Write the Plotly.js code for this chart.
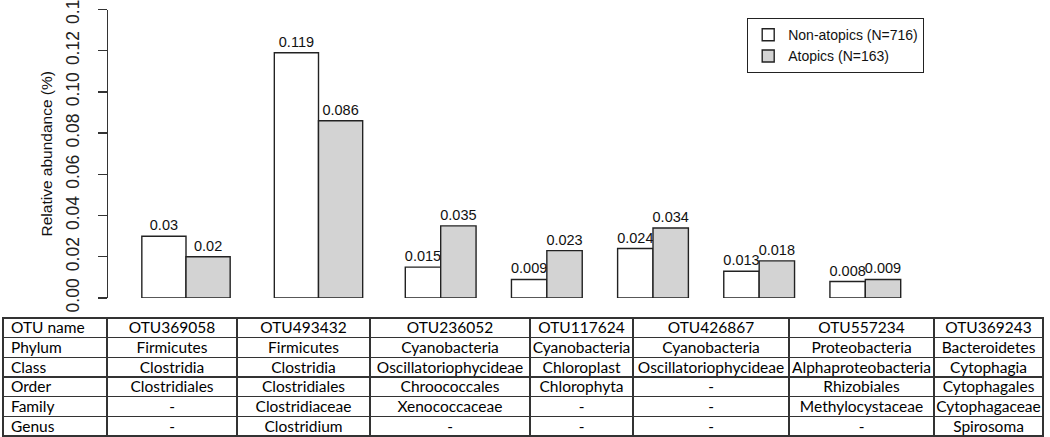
<!DOCTYPE html>
<html>
<head>
<meta charset="utf-8">
<script src="https://cdn.plot.ly/plotly-3.0.1.min.js"></script>
<style>
html,body{margin:0;padding:0;background:#fff;}
#chart{width:1050px;height:437px;}
/* centre the single-line table text vertically in its row */
#chart .cell-text{transform:translateY(-4.3px);}
</style>
</head>
<body>
<div id="chart"></div>
<script>
// ---- data ----
const otuNames = ['OTU369058','OTU493432','OTU236052','OTU117624','OTU426867','OTU557234','OTU369243'];
const nonAtopics = [0.03, 0.119, 0.015, 0.009, 0.024, 0.013, 0.008];
const atopics = [0.02, 0.086, 0.035, 0.023, 0.034, 0.018, 0.009];
const seriesNames = ['Non-atopics (N=716)', 'Atopics (N=163)'];
const rowLabels = ['OTU name','Phylum','Class','Order','Family','Genus'];
const phylum = ['Firmicutes','Firmicutes','Cyanobacteria','Cyanobacteria','Cyanobacteria','Proteobacteria','Bacteroidetes'];
const classes = ['Clostridia','Clostridia','Oscillatoriophycideae','Chloroplast','Oscillatoriophycideae','Alphaproteobacteria','Cytophagia'];
const orders = ['Clostridiales','Clostridiales','Chroococcales','Chlorophyta','-','Rhizobiales','Cytophagales'];
const families = ['-','Clostridiaceae','Xenococcaceae','-','-','Methylocystaceae','Cytophagaceae'];
const genera = ['-','Clostridium','-','-','-','-','Spirosoma'];
const yTickVals = [0, 0.02, 0.04, 0.06, 0.08, 0.10, 0.12, 0.14];
const yTickText = ['0.00','0.02','0.04','0.06','0.08','0.10','0.12','0.14'];
const yTitle = 'Relative abundance (%)';

// ---- layout helpers ----
const W = 1050, H = 437;
const px = v => v / W;
const py = v => 1 - v / H;
const split = 2; // first groups drawn wider (as in the reference)
const fillColors = ['#FFFFFF', '#D3D3D3'];
const FONT = 'Liberation Sans, Arial, sans-serif';
const noWrap = s => s.replace(/ /g, '\u00A0'); // keep table cells on one line

const series = [nonAtopics, atopics];
const traces = [];
[['x','y',0,split],['x2','y',split,otuNames.length]].forEach(([xa,ya,a,b],k)=>{
  series.forEach((vals,i)=>{
    traces.push({
      type:'bar', xaxis:xa, yaxis:ya,
      x: otuNames.slice(a,b), y: vals.slice(a,b),
      name: seriesNames[i], legendgroup: 'g'+i, showlegend: k===0,
      marker:{color:fillColors[i], line:{color:'#222', width:1.4}},
      text: vals.slice(a,b).map(v=>String(v)),
      textposition:'outside', constraintext:'none', cliponaxis:false,
      textfont:{family:FONT, size:14.5, color:'#111'},
      hoverinfo:'x+y'
    });
  });
});

const TFONT = {family:'Lato, Open Sans, sans-serif', size:15.5, color:'#000'};
const colVals = otuNames.map((_,i)=>[phylum[i], classes[i], orders[i], families[i], genera[i]]);
const aligns = ['left'].concat(otuNames.map(()=> 'center'));
const rowH = (436 - 318) / 6;
traces.push({
  type:'table',
  domain:{x:[px(3), px(1043)], y:[0, py(318)]},
  columnwidth:[104,130,133,160,103,156,145,109],
  header:{values:[noWrap(rowLabels[0])].concat(otuNames), align:aligns, height:rowH,
    line:{color:'#333', width:1.2}, fill:{color:'#fff'}, font:TFONT},
  cells:{values:[rowLabels.slice(1).map(noWrap)].concat(colVals), align:aligns, height:rowH,
    line:{color:'#333', width:1.2}, fill:{color:'#fff'}, font:TFONT}
});

const layout = {
  width:W, height:H,
  margin:{l:0, r:0, t:0, b:0},
  paper_bgcolor:'#fff', plot_bgcolor:'rgba(0,0,0,0)',
  showlegend:true,
  barmode:'group', bargap:1/3, bargroupgap:0,
  xaxis:{domain:[px(119.75), px(384.75)], range:[-0.5,1.5], visible:false, anchor:'y'},
  xaxis2:{domain:[px(387.6), px(918.4)], range:[-0.5,4.5], visible:false, anchor:'y'},
  yaxis:{domain:[py(298), py(9.5)], range:[0,0.14], anchor:'free', position:px(107),
    tickvals:yTickVals, ticktext:yTickText, tickangle:-90,
    ticks:'outside', ticklen:9, tickwidth:1.3, tickcolor:'#333',
    ticklabelstandoff:12, ticklabeloverflow:'allow',
    showline:true, linecolor:'#333', linewidth:1.3, showgrid:false, zeroline:false,
    tickfont:{family:FONT, size:17.5, color:'#222'},
    title:{text:yTitle, font:{family:FONT, size:15.5, color:'#111'}, standoff:5}},
  legend:{x:px(747), y:py(18), xanchor:'left', yanchor:'top',
    bordercolor:'#222', borderwidth:1.2, bgcolor:'#fff',
    font:{family:FONT, size:14, color:'#111'}, traceorder:'normal'}
};

Plotly.newPlot('chart', traces, layout, {displayModeBar:false, staticPlot:true});
</script>
</body>
</html>
